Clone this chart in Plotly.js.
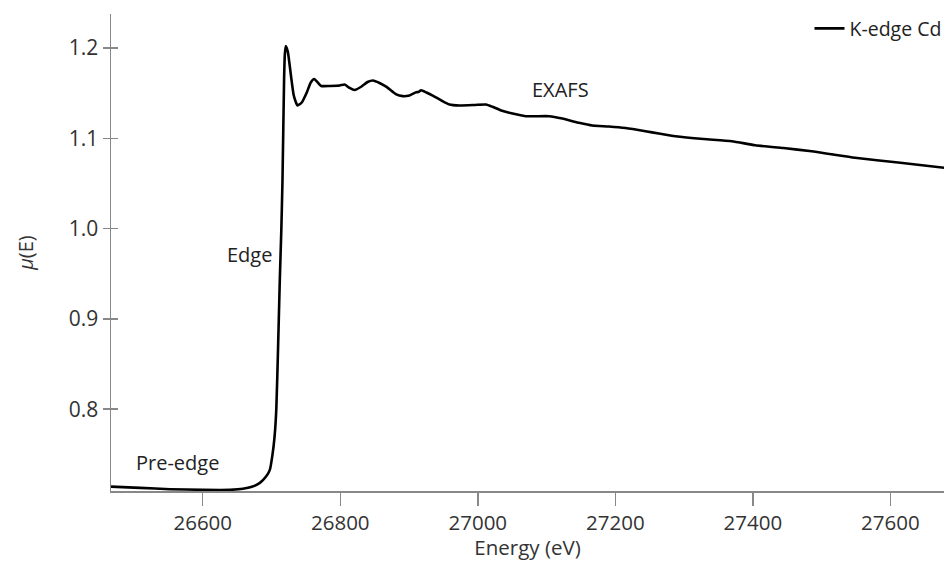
<!DOCTYPE html>
<html>
<head>
<meta charset="utf-8">
<script src="https://cdn.plot.ly/plotly-3.0.1.min.js"></script>
<style>html,body{margin:0;padding:0;background:#fff}#chart{width:948px;height:561px}</style>
</head>
<body>
<div id="chart"></div>
<script>
// Energy (eV) values
const energy = [26466.6, 26509, 26552.6, 26600.4, 26639.6, 26658.4, 26671.5, 26683.1, 26691.8, 26697.6,
  26701.5, 26704.5, 26707.0, 26709.6, 26712.1, 26714.3, 26716.0, 26718.3, 26719.4, 26720.8,
  26723.7, 26728.1, 26732.4, 26737.8, 26744.0, 26751.3, 26757.1, 26762.1, 26767.2, 26772.3,
  26784.6, 26799.1, 26806.4, 26813.6, 26820.9, 26831.0, 26839.7, 26847.7, 26857.1, 26867.3,
  26881.4, 26890.9, 26900.6, 26910.4, 26913.7, 26917.6, 26925.3, 26934.4, 26947.1, 26958.7,
  26973.2, 26994.9, 27011.9, 27021.5, 27034.1, 27045.7, 27069.9, 27103.7, 27123.0, 27147.2,
  27166.5, 27190.7, 27214.9, 27243.9, 27263.2, 27287.4, 27328.5, 27369.5, 27403.5, 27444.5,
  27485.6, 27517.0, 27548.5, 27611.3, 27679.0];
// absorption mu(E) values
const mu = [0.7143, 0.7129, 0.7114, 0.7107, 0.7107, 0.7118, 0.7140, 0.7184, 0.7251, 0.7328,
  0.7500, 0.7700, 0.8000, 0.8695, 0.9435, 0.9989, 1.0543, 1.1652, 1.1929, 1.2023,
  1.1962, 1.1707, 1.1474, 1.1364, 1.1397, 1.1508, 1.1619, 1.1657, 1.1619, 1.1580,
  1.1580, 1.1585, 1.1596, 1.1558, 1.1535, 1.1574, 1.1624, 1.1641, 1.1613, 1.1569,
  1.1486, 1.1467, 1.1475, 1.1511, 1.1513, 1.1533, 1.1508, 1.1474, 1.1419, 1.1375,
  1.1364, 1.1369, 1.1375, 1.1349, 1.1308, 1.1283, 1.1245, 1.1245, 1.1219, 1.1172,
  1.1142, 1.1131, 1.1114, 1.1079, 1.1053, 1.1023, 1.0992, 1.0968, 1.0923, 1.0892,
  1.0857, 1.0820, 1.0784, 1.0732, 1.0673];

const seriesName = "K-edge Cd";
const xTicks = [26600, 26800, 27000, 27200, 27400, 27600];
const yTicks = [0.8, 0.9, 1.0, 1.1, 1.2];
const regionLabels = ["Pre-edge", "Edge", "EXAFS"];
const regionX = [26562.7, 26667.9, 27120.4];
const regionY = [0.7409, 0.9712, 1.1541];

const FONT = "Open Sans, Lato, sans-serif";
const xRange = [26466.6, 27678];
const yRange = [0.7094, 1.2377];

const trace = {
  x: energy, y: mu, type: "scatter", mode: "lines", name: seriesName,
  line: {color: "#000", width: 2.6, shape: "spline", smoothing: 0.5}
};
// invisible helper trace to draw inward y ticks
const helper = {x: [xRange[0]], y: [yRange[0]], yaxis: "y2", type: "scatter", mode: "markers",
  marker: {opacity: 0}, showlegend: false, hoverinfo: "skip"};

const layout = {
  width: 948, height: 561,
  margin: {l: 111, r: 2, t: 14, b: 70},
  paper_bgcolor: "#fff", plot_bgcolor: "#fff",
  font: {family: FONT, color: "#333", size: 20},
  showlegend: true,
  legend: {x: 1.003, xanchor: "right", y: 1.01, yanchor: "top", bgcolor: "rgba(0,0,0,0)",
    font: {family: FONT, size: 19.5, color: "#222"}},
  xaxis: {
    range: xRange, tickvals: xTicks, ticktext: xTicks.map(String),
    showgrid: false, zeroline: false, showline: true, linecolor: "#888", linewidth: 1.5,
    ticks: "outside", ticklen: 13, tickwidth: 1.5, tickcolor: "#888",
    tickfont: {family: FONT, size: 20.5, color: "#333"},
    title: {text: "Energy (eV)", font: {family: FONT, size: 20.5, color: "#333"}, standoff: 0}
  },
  yaxis: {
    range: yRange, tickvals: yTicks, ticktext: ["0.8", "0.9", "1.0", "1.1", "1.2"],
    showgrid: false, zeroline: false, showline: true, linecolor: "#888", linewidth: 1.5,
    ticks: "outside", ticklen: 7, tickwidth: 1.5, tickcolor: "#888",
    tickfont: {family: FONT, size: 21, color: "#333"},
    title: {text: "<i>μ</i>(E)", font: {family: FONT, size: 20, color: "#333"}, standoff: 30}
  },
  yaxis2: {
    range: yRange, overlaying: "y", side: "left", tickvals: yTicks, showticklabels: false,
    showgrid: false, zeroline: false, showline: false,
    ticks: "inside", ticklen: 7, tickwidth: 1.5, tickcolor: "#888"
  },
  annotations: regionLabels.map((t, i) => ({
    x: regionX[i], y: regionY[i], text: t, showarrow: false,
    font: {family: FONT, size: 20, color: "#222"}
  }))
};

Plotly.newPlot("chart", [trace, helper], layout, {staticPlot: true, displayModeBar: false});
</script>
</body>
</html>
